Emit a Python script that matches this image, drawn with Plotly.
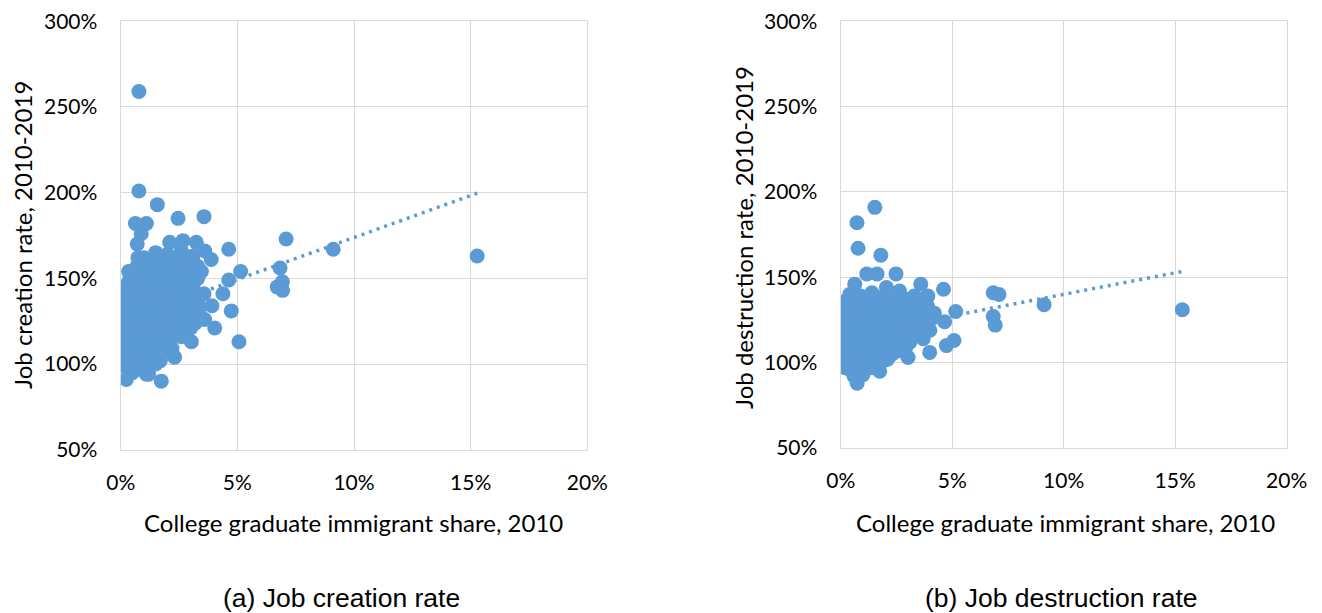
import plotly.graph_objects as go

# ---- Panel (a): job creation rate vs. college graduate immigrant share (both in %) ----
creation_share = [
    0.78, 0.78, 0.63, 1.10, 1.57, 2.46, 3.57, 0.88, 0.71, 2.10, 2.67, 3.24, 3.60, 3.88,
    4.63, 3.46, 5.14, 4.63, 4.38, 3.57, 3.91, 4.74, 4.03, 5.07, 3.03, 2.31, 1.74, 1.10,
    0.24, 0.34, 0.74, 0.03, 0.00, 0.00, 0.03, 7.09, 9.11, 15.28, 6.83, 6.93, 6.71, 6.94,
    1.5, 2.0, 2.6, 3.1,
    1.2, 1.8, 2.3, 2.9, 3.3,
    0.9, 1.4, 1.9, 2.4, 2.8, 3.2,
    0.6, 1.0, 1.5, 2.0, 2.5, 3.0,
    0.5, 0.9, 1.3, 1.7, 2.2, 2.6, 3.1,
    0.3, 0.7, 1.1, 1.5, 1.9, 2.3, 2.8, 3.3,
    0.4, 0.8, 1.2, 1.6, 2.0, 2.4, 2.9, 3.4,
    0.2, 0.6, 1.0, 1.4, 1.8, 2.2, 2.6, 3.0,
    0.1, 0.5, 0.9, 1.3, 1.7, 2.1, 2.5, 3.2, 3.6,
    0.3, 0.7, 1.1, 1.5, 1.9, 2.4, 2.8,
    0.1, 0.5, 0.9, 1.3, 1.7, 2.1, 2.6,
    0.2, 0.6, 1.0, 1.4, 1.8, 2.2,
    0.1, 0.5, 0.9, 1.3, 1.7,
    0.3, 0.7, 1.1, 1.5,
    0.5, 0.9, 1.2,
    1.0, 1.6, 2.2, 2.7,
    0.7, 1.2, 1.7, 2.1, 2.6, 3.0,
    0.4, 0.8, 1.2, 1.7, 2.2, 2.7, 3.3,
    0.3, 0.7, 1.1, 1.5, 1.9, 2.4, 2.8,
    0.2, 0.5, 0.9, 1.3, 1.7, 2.1, 2.5, 3.0,
    0.1, 0.6, 1.0, 1.4, 1.8, 2.2, 2.6, 3.1,
    0.0, 0.4, 0.8, 1.2, 1.6, 2.0, 2.4, 2.8, 3.3,
    0.3, 0.7, 1.1, 1.5, 1.9, 2.3, 2.8, 3.4,
    0.0, 0.5, 0.9, 1.3, 1.7, 2.1, 2.6, 3.0,
    0.3, 0.7, 1.1, 1.5, 1.9, 2.3,
    0.0, 0.4, 0.8, 1.2, 1.6, 2.0,
    0.3, 0.7, 1.1, 1.5, 1.9,
    0.1, 0.5, 0.9, 1.3,
    0.3, 0.7, 1.1,
]
creation_rate = [
    259, 201, 182, 182, 193, 185, 186, 176, 170, 171, 172, 171, 166, 161,
    167, 154, 154, 149, 141, 141, 134, 131, 121, 113, 113, 104, 90, 94,
    91, 154, 162, 134, 120, 110, 100, 173, 167, 163, 156, 148, 145, 143,
    165, 164, 166, 163,
    159, 161, 158, 160, 157,
    155, 154, 156, 153, 155, 152,
    149, 151, 148, 150, 147, 149,
    144, 146, 143, 145, 144, 142, 145,
    139, 141, 138, 140, 137, 139, 138, 136,
    134, 136, 133, 135, 132, 134, 131, 133,
    129, 131, 128, 130, 127, 129, 126, 128,
    124, 126, 123, 125, 122, 124, 121, 124, 126,
    119, 121, 118, 120, 117, 119, 118,
    114, 116, 113, 115, 112, 114, 116,
    109, 111, 108, 110, 107, 109,
    104, 106, 103, 105, 102,
    99, 101, 98, 100,
    95, 97, 94,
    162, 163, 162, 161,
    157, 157, 158, 156, 157, 156,
    151, 152, 153, 152, 151, 152, 150,
    147, 148, 147, 146, 147, 146, 147,
    142, 142, 143, 141, 142, 141, 142, 141,
    137, 138, 137, 137, 138, 136, 137, 136,
    132, 131, 132, 131, 132, 130, 131, 133, 130,
    127, 128, 127, 127, 128, 127, 125, 128,
    122, 122, 121, 122, 120, 121, 122, 121,
    117, 117, 116, 117, 115, 117,
    113, 112, 112, 111, 113, 111,
    107, 108, 107, 107, 108,
    102, 101, 102, 101,
    97, 97, 96,
]
creation_trend_share = [0.0, 15.3]
creation_trend_rate = [124.8, 199.8]

# ---- Panel (b): job destruction rate vs. college graduate immigrant share (both in %) ----
destruction_share = [
    1.53, 0.73, 0.78, 1.80, 1.17, 1.63, 2.48, 3.59, 4.61, 0.63, 6.84, 7.10, 5.16, 9.12,
    6.84, 6.93, 5.08, 4.74, 3.99, 3.02, 15.32, 0.74, 1.75, 0.00, 0.03, 4.66, 2.05, 2.64, 3.91,
    0.4, 0.9, 1.4, 2.6, 3.3,
    0.2, 0.6, 1.1, 1.6, 2.1, 2.8, 3.4, 3.9,
    0.3, 0.7, 1.2, 1.7, 2.2, 2.7, 3.1, 3.6, 4.2,
    0.1, 0.5, 0.9, 1.4, 1.9, 2.4, 2.9, 3.4, 3.8,
    0.2, 0.6, 1.0, 1.5, 2.0, 2.5, 3.0, 3.5, 4.0,
    0.1, 0.5, 0.9, 1.3, 1.8, 2.3, 2.7, 3.2, 3.7,
    0.2, 0.6, 1.0, 1.5, 2.0, 2.4, 2.9,
    0.1, 0.5, 0.9, 1.3, 1.8, 2.3,
    0.2, 0.6, 1.0, 1.4, 1.9,
    0.4, 0.8, 1.2,
    0.6, 1.0,
    0.3, 0.8, 1.3, 1.8, 2.4, 3.0, 3.6,
    0.0, 0.5, 1.0, 1.5, 1.9, 2.5, 2.9, 3.4, 3.9,
    0.3, 0.7, 1.2, 1.6, 2.1, 2.6, 3.1, 3.6, 4.1,
    0.0, 0.4, 0.8, 1.2, 1.7, 2.2, 2.7, 3.2, 3.7,
    0.3, 0.7, 1.1, 1.6, 2.1, 2.5, 3.0, 3.5,
    0.0, 0.4, 0.8, 1.2, 1.7, 2.2, 2.7, 3.1,
    0.3, 0.7, 1.1, 1.6, 2.1, 2.6,
    0.0, 0.4, 0.8, 1.2, 1.6, 2.1,
    0.2, 0.6, 1.0, 1.4,
]
destruction_rate = [
    191, 182, 167, 163, 152, 152, 152, 146, 143, 146, 141, 140, 130, 134,
    127, 122, 113, 110, 106, 103, 131, 88, 95, 98, 127, 124, 144, 142, 139,
    140, 139, 141, 140, 139,
    134, 136, 135, 134, 136, 134, 135, 133,
    129, 131, 130, 128, 130, 129, 131, 128, 129,
    124, 126, 125, 124, 126, 125, 123, 125, 124,
    119, 121, 120, 119, 121, 120, 118, 120, 119,
    114, 116, 115, 114, 116, 115, 113, 115, 114,
    109, 111, 110, 109, 111, 110, 108,
    104, 106, 105, 104, 106, 105,
    99, 101, 100, 99, 101,
    96, 95, 97,
    92, 93,
    137, 138, 137, 138, 137, 137, 137,
    132, 132, 133, 132, 131, 132, 132, 131, 130,
    127, 128, 127, 127, 128, 127, 126, 126, 126,
    122, 122, 123, 122, 122, 123, 121, 122, 122,
    117, 118, 117, 117, 118, 117, 116, 117,
    112, 112, 113, 112, 113, 112, 111, 112,
    107, 108, 107, 108, 107, 107,
    102, 103, 102, 103, 102, 102,
    97, 98, 98, 97,
]
destruction_trend_share = [0.0, 15.3]
destruction_trend_rate = [114.8, 153.4]

x_ticks = [0, 5, 10, 15, 20]
y_ticks = [50, 100, 150, 200, 250, 300]

x_title = "College graduate immigrant share, 2010"
y_title_a = "Job creation rate, 2010-2019"
y_title_b = "Job destruction rate, 2010-2019"
caption_a = "(a) Job creation rate"
caption_b = "(b) Job destruction rate"

W, H = 1322, 613
BLUE = "#5b9bd5"
GRID = "#d9d9d9"
TICK_FONT = dict(family="Lato", size=21, color="#000000")
TITLE_FONT = dict(family="Lato", size=24, color="#000000")
CAPTION_FONT = dict(family="Liberation Sans, Arial", size=26.5, color="#000000")

fig = go.Figure()

for share, rate, tshare, trate, xa, ya in [
    (creation_share, creation_rate, creation_trend_share, creation_trend_rate, "x", "y"),
    (destruction_share, destruction_rate, destruction_trend_share, destruction_trend_rate, "x2", "y2"),
]:
    fig.add_trace(go.Scatter(
        x=share, y=rate, mode="markers", xaxis=xa, yaxis=ya,
        marker=dict(size=15, color=BLUE, line=dict(width=0)),
        showlegend=False, hoverinfo="skip",
    ))
    fig.add_trace(go.Scatter(
        x=tshare, y=trate, mode="lines", xaxis=xa, yaxis=ya,
        line=dict(color=BLUE, width=3.5, dash="3px,5px"),
        showlegend=False, hoverinfo="skip",
    ))


def x_axis(domain, anchor):
    return dict(
        domain=domain, anchor=anchor, range=[0, 20], tickvals=x_ticks,
        ticktext=[f"{v}%" for v in x_ticks], showgrid=True, gridcolor=GRID, gridwidth=1.3,
        showline=True, mirror=True, linecolor=GRID, linewidth=1.3, zeroline=False,
        ticks="", tickfont=TICK_FONT, ticklabelstandoff=14, automargin=False,
    )


def y_axis(domain, anchor):
    return dict(
        domain=domain, anchor=anchor, range=[50, 300], tickvals=y_ticks,
        ticktext=[f"{v}%" for v in y_ticks], showgrid=True, gridcolor=GRID, gridwidth=1.3,
        showline=True, mirror=True, linecolor=GRID, linewidth=1.3, zeroline=False,
        ticks="", tickfont=TICK_FONT, ticklabelstandoff=18, automargin=False,
    )


fig.update_layout(
    width=W, height=H,
    margin=dict(l=0, r=0, t=0, b=0),
    paper_bgcolor="white", plot_bgcolor="white",
    xaxis=x_axis([120.7 / W, 587.3 / W], "y"),
    yaxis=y_axis([1 - 449.7 / H, 1 - 21.3 / H], "x"),
    xaxis2=x_axis([840.7 / W, 1286.7 / W], "y2"),
    yaxis2=y_axis([1 - 448.0 / H, 1 - 21.3 / H], "x2"),
)

annotations = [
    dict(text=x_title, x=353 / W, y=1 - 522 / H, font=TITLE_FONT),
    dict(text=x_title, x=1065 / W, y=1 - 522 / H, font=TITLE_FONT),
    dict(text=y_title_a, x=23 / W, y=1 - 235 / H, textangle=-90, font=TITLE_FONT),
    dict(text=y_title_b, x=744 / W, y=1 - 237 / H, textangle=-90, font=TITLE_FONT),
    dict(text=caption_a, x=342 / W, y=1 - 598 / H, font=CAPTION_FONT),
    dict(text=caption_b, x=1061 / W, y=1 - 598 / H, font=CAPTION_FONT),
]
for a in annotations:
    a.update(xref="paper", yref="paper", showarrow=False, xanchor="center", yanchor="middle")
fig.update_layout(annotations=annotations)

fig.write_html("out.html")
